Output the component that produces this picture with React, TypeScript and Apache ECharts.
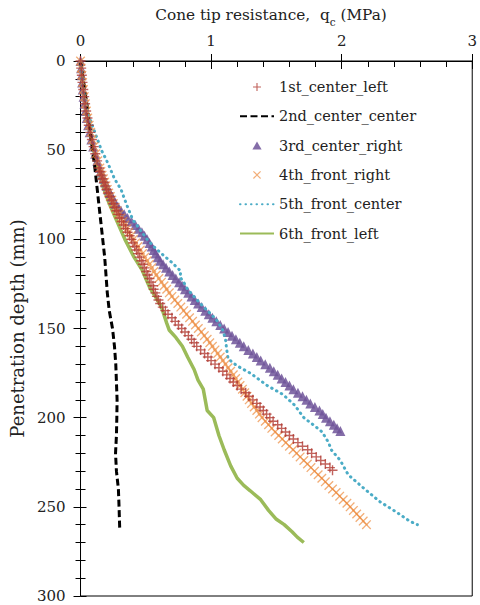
import React, { useEffect, useRef } from 'react';
import * as echarts from 'echarts';

// [q_c (MPa), depth (mm)]
const s1CenterLeft: [number, number][] = [
  [0, 0], [0.005, 4], [0.01, 8], [0.015, 12], [0.021, 16], [0.028, 20], [0.035, 24], [0.043, 28],
  [0.053, 32], [0.063, 36], [0.075, 40], [0.087, 44], [0.1, 48], [0.113, 52], [0.127, 56],
  [0.142, 60], [0.15, 62], [0.16, 64], [0.17, 66], [0.18, 68], [0.19, 70], [0.2, 72], [0.213, 74],
  [0.225, 76], [0.238, 78], [0.25, 80], [0.262, 82], [0.275, 84], [0.288, 86], [0.3, 88], [0.315, 90],
  [0.33, 92], [0.345, 94], [0.36, 96], [0.376, 98], [0.39, 100], [0.402, 102], [0.415, 104], [0.428, 106],
  [0.44, 108], [0.452, 110], [0.465, 112], [0.478, 114], [0.49, 116], [0.503, 118], [0.515, 120], [0.528, 122],
  [0.54, 124], [0.555, 126], [0.56, 128], [0.573, 130], [0.585, 132], [0.597, 134], [0.61, 136], [0.63, 138],
  [0.65, 140], [0.67, 142], [0.7, 144], [0.725, 146], [0.75, 148], [0.775, 150], [0.8, 152], [0.826, 154],
  [0.85, 156], [0.87, 158], [0.89, 160], [0.92, 162], [0.95, 164], [0.975, 166], [1.0, 168], [1.03, 170],
  [1.06, 172], [1.09, 174], [1.12, 176], [1.145, 178], [1.17, 180], [1.2, 182], [1.23, 184], [1.265, 186],
  [1.29, 188], [1.32, 190], [1.35, 192], [1.375, 194], [1.4, 196], [1.425, 198], [1.45, 200], [1.475, 202],
  [1.51, 204], [1.54, 206], [1.57, 208], [1.6, 210], [1.63, 212], [1.665, 214], [1.7, 216], [1.74, 218],
  [1.77, 220], [1.805, 222], [1.84, 224], [1.875, 226], [1.91, 228], [1.93, 229.5],
];

const s2CenterCenter: [number, number][] = [
  [0, 0], [0.02, 10], [0.04, 20], [0.06, 30], [0.075, 40], [0.092, 50], [0.11, 60], [0.125, 70],
  [0.14, 80], [0.155, 90], [0.17, 100], [0.185, 110], [0.195, 120], [0.205, 130], [0.22, 140],
  [0.245, 150], [0.26, 160], [0.27, 170], [0.275, 180], [0.28, 190], [0.278, 200], [0.275, 210],
  [0.268, 220], [0.275, 230], [0.29, 240], [0.295, 250], [0.3, 262],
];

const s3CenterRight: [number, number][] = [
  [0, 0], [0.004, 4], [0.008, 8], [0.012, 12], [0.017, 16], [0.023, 20], [0.03, 24], [0.038, 28],
  [0.048, 32], [0.058, 36], [0.07, 40], [0.083, 44], [0.097, 48], [0.112, 52], [0.128, 56],
  [0.146, 60], [0.156, 62], [0.166, 64], [0.177, 66], [0.188, 68], [0.2, 70], [0.213, 72], [0.226, 74],
  [0.24, 76], [0.255, 78], [0.27, 80], [0.29, 82], [0.31, 84], [0.335, 86], [0.36, 88], [0.39, 90],
  [0.42, 92], [0.445, 94], [0.47, 96], [0.49, 98], [0.51, 100], [0.528, 102], [0.545, 104], [0.56, 106],
  [0.575, 108], [0.592, 110], [0.61, 112], [0.632, 114], [0.655, 116], [0.68, 118], [0.705, 120], [0.73, 122],
  [0.755, 124], [0.778, 126], [0.8, 128], [0.825, 130], [0.85, 132], [0.875, 134], [0.9, 136], [0.928, 138],
  [0.955, 140], [0.982, 142], [1.01, 144], [1.04, 146], [1.07, 148], [1.1, 150], [1.13, 152], [1.16, 154],
  [1.19, 156], [1.22, 158], [1.25, 160], [1.285, 162], [1.32, 164], [1.35, 166], [1.38, 168], [1.415, 170],
  [1.45, 172], [1.48, 174], [1.51, 176], [1.54, 178], [1.57, 180], [1.6, 182], [1.63, 184], [1.665, 186],
  [1.7, 188], [1.73, 190], [1.76, 192], [1.795, 194], [1.83, 196], [1.855, 198], [1.88, 200], [1.91, 202],
  [1.94, 204], [1.965, 206], [1.99, 207.5],
];

const s4FrontRight: [number, number][] = [
  [0, 0], [0.005, 4], [0.01, 8], [0.016, 12], [0.022, 16], [0.029, 20], [0.037, 24], [0.045, 28],
  [0.055, 32], [0.066, 36], [0.078, 40], [0.09, 44], [0.103, 48], [0.117, 52], [0.132, 56],
  [0.148, 60], [0.156, 62], [0.165, 64], [0.175, 66], [0.185, 68], [0.195, 70], [0.205, 72], [0.216, 74],
  [0.228, 76], [0.24, 78], [0.252, 80], [0.266, 82], [0.28, 84], [0.295, 86], [0.31, 88], [0.325, 90],
  [0.34, 92], [0.355, 94], [0.37, 96], [0.388, 98], [0.405, 100], [0.422, 102], [0.44, 104], [0.458, 106],
  [0.475, 108], [0.492, 110], [0.51, 112], [0.528, 114], [0.545, 116], [0.562, 118], [0.58, 120], [0.6, 122],
  [0.62, 124], [0.64, 126], [0.66, 128], [0.68, 130], [0.7, 132], [0.722, 134], [0.745, 136], [0.768, 138],
  [0.79, 140], [0.812, 142], [0.835, 144], [0.858, 146], [0.88, 148], [0.902, 150], [0.925, 152], [0.948, 154],
  [0.97, 156], [0.99, 158], [1.01, 160], [1.03, 162], [1.05, 164], [1.07, 166], [1.09, 168], [1.11, 170],
  [1.13, 172], [1.15, 174], [1.17, 176], [1.188, 178], [1.205, 180], [1.222, 182], [1.24, 184], [1.258, 186],
  [1.275, 188], [1.292, 190], [1.31, 192], [1.33, 194], [1.35, 196], [1.37, 198], [1.39, 200], [1.415, 202],
  [1.44, 204], [1.465, 206], [1.49, 208], [1.518, 210], [1.545, 212], [1.572, 214], [1.6, 216], [1.628, 218],
  [1.655, 220], [1.682, 222], [1.71, 224], [1.738, 226], [1.765, 228], [1.792, 230], [1.82, 232], [1.848, 234],
  [1.875, 236], [1.902, 238], [1.93, 240], [1.958, 242], [1.985, 244], [2.012, 246], [2.04, 248], [2.065, 250],
  [2.09, 252], [2.115, 254], [2.14, 256], [2.165, 258], [2.19, 260],
];

const s5FrontCenter: [number, number][] = [
  [0, 0], [0.005, 5], [0.012, 10], [0.02, 15], [0.03, 20], [0.045, 25], [0.06, 30], [0.084, 35],
  [0.11, 40], [0.135, 45], [0.16, 50], [0.195, 55], [0.225, 60], [0.26, 66], [0.31, 72], [0.35, 80],
  [0.4, 89], [0.46, 95], [0.51, 100], [0.56, 104], [0.62, 108], [0.7, 113], [0.77, 118], [0.76, 121],
  [0.79, 124], [0.82, 128], [0.88, 133], [0.93, 137], [1.0, 142], [1.05, 146], [1.09, 151], [1.11, 156],
  [1.12, 162], [1.13, 167], [1.2, 171], [1.3, 175], [1.43, 182], [1.55, 187], [1.64, 193], [1.71, 200],
  [1.8, 205], [1.85, 208], [1.9, 214], [1.92, 218], [1.99, 224], [2.05, 232], [2.16, 239], [2.29, 247],
  [2.42, 253], [2.52, 258], [2.58, 260],
];

const s6FrontLeft: [number, number][] = [
  [0, 0], [0.01, 8], [0.025, 20], [0.045, 30], [0.07, 40], [0.1, 50], [0.13, 60], [0.17, 70],
  [0.22, 80], [0.28, 90], [0.34, 100], [0.41, 110], [0.47, 117], [0.53, 127], [0.58, 133], [0.62, 138],
  [0.66, 147], [0.68, 151], [0.73, 155], [0.78, 160], [0.82, 166], [0.87, 173], [0.9, 179], [0.94, 184],
  [0.96, 192], [0.97, 196], [1.02, 200], [1.06, 210], [1.1, 218], [1.15, 227], [1.2, 234], [1.25, 238],
  [1.3, 241], [1.38, 246], [1.44, 252], [1.5, 257], [1.56, 260], [1.62, 264], [1.66, 267], [1.71, 270],
];

const seriesNames = [
  '1st_center_left',
  '2nd_center_center',
  '3rd_center_right',
  '4th_front_right',
  '5th_front_center',
  '6th_front_left',
];

const xMin = 0;
const xMax = 3;
const xInterval = 1;
const yMin = 0;
const yMax = 300;
const yInterval = 50;

const FONT = 'DejaVu Serif';
const PLUS = 'path://M4.3,0H5.7V4.3H10V5.7H5.7V10H4.3V5.7H0V4.3H4.3Z';
const CROSS = 'path://M0,1L1,0L5,4L9,0L10,1L6,5L10,9L9,10L5,6L1,10L0,9L4,5Z';
const TRI = 'path://M5,0L10,8.7L0,8.7Z';

export default function App() {
  const ref = useRef<HTMLDivElement>(null);
  useEffect(() => {
    if (!ref.current) return;
    const chart = echarts.init(ref.current, undefined, { renderer: 'svg' });
    const hideSym = { opacity: 0 };
    const labelStyle = { fontFamily: FONT, fontSize: 15, color: '#222', fontWeight: 'normal' };
    const option: any = {
      animation: false,
      backgroundColor: '#fff',
      textStyle: { fontFamily: FONT },
      title: {
        text: '{a|Cone tip resistance,  q}{s|c}{a| (MPa)}',
        left: 266,
        top: -2,
        textAlign: 'center',
        textStyle: {
          fontFamily: FONT,
          fontWeight: 'normal',
          rich: {
            a: { fontFamily: FONT, fontWeight: 'normal', fontSize: 15.3, color: '#222', lineHeight: 24 },
            s: { fontFamily: FONT, fontWeight: 'normal', fontSize: 10.5, color: '#222', lineHeight: 11, verticalAlign: 'bottom' },
          },
        },
      },
      grid: {
        left: 79,
        right: 7,
        top: 61,
        bottom: 9,
        show: true,
        borderColor: '#000',
        borderWidth: 1,
      },
      legend: {
        orient: 'vertical',
        left: 234,
        top: 73,
        itemWidth: 34,
        itemHeight: 8,
        itemGap: 11.3,
        textStyle: { fontFamily: FONT, fontSize: 14.5, color: '#222', lineHeight: 18 },
        data: [
          { name: seriesNames[0] },
          { name: seriesNames[1], itemStyle: hideSym },
          { name: seriesNames[2] },
          { name: seriesNames[3] },
          { name: seriesNames[4], itemStyle: hideSym },
          { name: seriesNames[5], itemStyle: hideSym },
        ],
      },
      xAxis: [
        {
          type: 'value',
          position: 'top',
          min: xMin,
          max: xMax,
          interval: xInterval,
          axisLine: { show: true, lineStyle: { color: '#000', width: 1 } },
          axisTick: { show: true, inside: true, length: 8, lineStyle: { color: '#000' } },
          minorTick: { show: true, splitNumber: 5, length: 6, lineStyle: { color: '#000' } },
          axisLabel: { ...labelStyle, margin: 13 },
          splitLine: { show: false },
        },
        {
          type: 'value',
          position: 'top',
          min: xMin,
          max: xMax,
          interval: xInterval,
          axisLine: { show: false },
          axisTick: { show: true, inside: false, length: 7, lineStyle: { color: '#000' } },
          minorTick: { show: false },
          axisLabel: { show: false },
          splitLine: { show: false },
        },
      ],
      yAxis: [
        {
          type: 'value',
          inverse: true,
          min: yMin,
          max: yMax,
          interval: yInterval,
          name: 'Penetration depth (mm)',
          nameLocation: 'middle',
          nameGap: 48,
          nameTextStyle: { fontFamily: FONT, fontSize: 18, color: '#222', fontWeight: 'normal' },
          axisLine: { show: true, lineStyle: { color: '#000', width: 1 } },
          axisTick: { show: true, inside: false, length: 7, lineStyle: { color: '#000' } },
          minorTick: { show: true, splitNumber: 5, length: 5, lineStyle: { color: '#000' } },
          axisLabel: { ...labelStyle, margin: 15 },
          splitLine: { show: false },
        },
        {
          type: 'value',
          inverse: true,
          min: yMin,
          max: yMax,
          interval: yInterval,
          position: 'left',
          axisLine: { show: false },
          axisTick: { show: true, inside: true, length: 6, lineStyle: { color: '#000' } },
          minorTick: { show: true, splitNumber: 5, length: 5, lineStyle: { color: '#000' } },
          axisLabel: { show: false },
          splitLine: { show: false },
        },
      ],
      series: [
        {
          name: seriesNames[0],
          type: 'scatter',
          data: s1CenterLeft,
          symbol: PLUS,
          symbolSize: 10,
          z: 5,
          itemStyle: { color: '#B23C35', opacity: 0.8 },
        },
        {
          name: seriesNames[1],
          type: 'line',
          data: s2CenterCenter,
          symbol: 'none',
          z: 3,
          lineStyle: { color: '#000', width: 3, type: [7, 3.5] },
          itemStyle: { color: '#000' },
        },
        {
          name: seriesNames[2],
          type: 'scatter',
          data: s3CenterRight,
          symbol: TRI,
          symbolSize: 10,
          z: 2,
          itemStyle: { color: '#6F5499', opacity: 0.85 },
        },
        {
          name: seriesNames[3],
          type: 'scatter',
          data: s4FrontRight,
          symbol: CROSS,
          symbolSize: 9.5,
          z: 4,
          itemStyle: { color: '#EC8B3E', opacity: 0.7 },
        },
        {
          name: seriesNames[4],
          type: 'line',
          data: s5FrontCenter,
          symbol: 'none',
          z: 3,
          lineStyle: { color: '#4BACC6', width: 3, type: [0.5, 5], cap: 'round' },
          itemStyle: { color: '#4BACC6' },
        },
        {
          name: seriesNames[5],
          type: 'line',
          data: s6FrontLeft,
          symbol: 'none',
          z: 1,
          lineStyle: { color: '#9BBB59', width: 3.5 },
          itemStyle: { color: '#9BBB59' },
        },
      ],
    };
    chart.setOption(option);
    return () => chart.dispose();
  }, []);
  return <div ref={ref} style={{ width: 480, height: 605, position: 'absolute', left: 0, top: 0 }} />;
}
